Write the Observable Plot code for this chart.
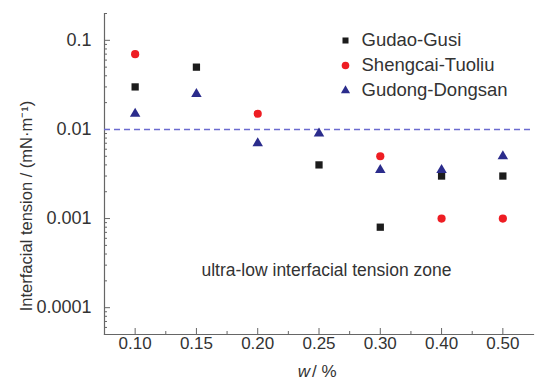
<!DOCTYPE html>
<html>
<head>
<meta charset="utf-8">
<script src="https://cdn.jsdelivr.net/npm/d3@7"></script>
<script src="https://cdn.jsdelivr.net/npm/@observablehq/plot@0.6"></script>
<style>
  html, body { margin: 0; padding: 0; background: #fff; }
  #chart svg { display: block; }
</style>
</head>
<body>
<div id="chart"></div>
<script>
// ---- data ----
const concentrations = ["0.10", "0.15", "0.20", "0.25", "0.30", "0.40", "0.50"];
const seriesNames = ["Gudao-Gusi", "Shengcai-Tuoliu", "Gudong-Dongsan"];
const gudaoGusi      = [0.03,  0.05,  null,  0.004, 0.0008, 0.003,  0.003];
const shengcaiTuoliu = [0.07,  null,  0.015, null,  0.005,  0.001,  0.001];
const gudongDongsan  = [0.015, 0.025, 0.007, 0.009, 0.0035, 0.0035, 0.005];
const yTickValues = [0.1, 0.01, 0.001, 0.0001];
const yTickLabels = ["0.1", "0.01", "0.001", "0.0001"];
const thresholdValue = 0.01;
const zoneLabel = "ultra-low interfacial tension zone";
const yLabel = "Interfacial tension / (mN·m\u207B\u00B9)";

// ---- build table ----
const seriesValues = [gudaoGusi, shengcaiTuoliu, gudongDongsan];
const rows = [];
seriesNames.forEach((name, s) => {
  seriesValues[s].forEach((v, i) => {
    if (v != null) rows.push({series: name, idx: i, value: v});
  });
});

const W = 535, H = 381, ML = 104, MR = 2, MT = 13, MB = 47;
const PW = W - ML - MR, PH = H - MT - MB;

const symbols = ["square", "circle", "triangle"];
const colors = ["#1c1c1c", "#ee1d23", "#2b2c8c"];
const font = "'Liberation Sans', Arial, sans-serif";
const textColor = "#333";
const axisColor = "#666";

// minor log ticks
const yMinor = [];
for (let e = -5; e <= -1; e++) for (let m = 2; m <= 9; m++) {
  const v = m * Math.pow(10, e);
  if (v >= 5e-5 && v <= 0.2) yMinor.push(v);
}
const xMajor = concentrations.map((_, i) => i);
const xMinor = concentrations.slice(1).map((_, i) => i + 0.5);

const marks = [
  // axis lines (left and bottom only)
  Plot.frame({anchor: "left", stroke: axisColor, strokeWidth: 1.2}),
  Plot.frame({anchor: "bottom", stroke: axisColor, strokeWidth: 1.2}),
  // inward tick marks
  Plot.tickY(yTickValues, {y: d => d, stroke: axisColor, strokeWidth: 1, insetRight: PW - 6}),
  Plot.tickY(yMinor, {y: d => d, stroke: axisColor, strokeWidth: 1, insetRight: PW - 3}),
  Plot.tickX(xMajor, {x: d => d, stroke: axisColor, strokeWidth: 1, insetTop: PH - 6}),
  Plot.tickX(xMinor, {x: d => d, stroke: axisColor, strokeWidth: 1, insetTop: PH - 3}),
  // tick labels
  Plot.axisY({ticks: yTickValues, tickFormat: (d) => yTickLabels[yTickValues.indexOf(d)],
    tickSize: 0, tickPadding: 13, color: textColor, fontSize: 18, label: null}),
  Plot.axisX({ticks: xMajor, tickFormat: (d) => concentrations[d],
    tickSize: 0, tickPadding: 2, color: textColor, fontSize: 17, label: null}),
  // threshold line
  Plot.ruleY([thresholdValue], {stroke: "#6b6bd0", strokeWidth: 1.6, strokeDasharray: "6,4"}),
  // data points
  ...seriesNames.map((name, s) => Plot.dot(rows.filter(r => r.series === name), {
    x: "idx", y: "value", symbol: () => symbols[s], fill: colors[s], r: s === 2 ? 3.9 : 4.1, stroke: "none"
  })),
  // legend
  ...seriesNames.map((name, s) => Plot.dot([name], {
    frameAnchor: "top-left", dx: 241, dy: 27 + s * 25, symbol: () => symbols[s], fill: colors[s], r: s === 1 ? 3.8 : 3.4
  })),
  ...seriesNames.map((name, s) => Plot.text([name], {
    frameAnchor: "top-left", dx: 257, dy: 27 + s * 25, text: d => d, textAnchor: "start",
    lineAnchor: "middle", fill: textColor, fontSize: 18.5
  })),
  // zone annotation
  Plot.text([zoneLabel], {frameAnchor: "top-left", dx: 222, dy: 257, text: d => d,
    textAnchor: "middle", lineAnchor: "middle", fill: textColor, fontSize: 17.5}),
  // y axis title
  Plot.text([yLabel], {frameAnchor: "left", dx: -78, dy: 32, rotate: -90, text: d => d,
    textAnchor: "middle", lineAnchor: "middle", fill: textColor, fontSize: 16.5}),
  // x axis title
  Plot.text(["w"], {frameAnchor: "bottom", dx: -9, dy: 37, text: d => d, textAnchor: "end",
    lineAnchor: "middle", fill: textColor, fontSize: 17, fontStyle: "italic"}),
  Plot.text(["/ %"], {frameAnchor: "bottom", dx: -7, dy: 37, text: d => d, textAnchor: "start",
    lineAnchor: "middle", fill: textColor, fontSize: 17})
];

const chart = Plot.plot({
  width: W,
  height: H,
  marginLeft: ML,
  marginRight: MR,
  marginTop: MT,
  marginBottom: MB,
  style: {fontFamily: font, background: "#fff", overflow: "visible"},
  x: {type: "linear", domain: [-0.5, 6.5], axis: null},
  y: {type: "log", domain: [5e-5, 0.2], axis: null},
  marks
});
document.getElementById("chart").appendChild(chart);
</script>
</body>
</html>
